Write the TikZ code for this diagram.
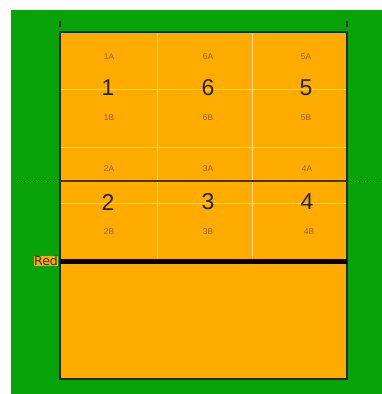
\documentclass[tikz,border=0pt]{standalone}
\usepackage{fontspec}
\setmainfont{Liberation Sans}
\newfontfamily\tagfont{DejaVu Sans}
\definecolor{grass}{RGB}{8,163,8}
\definecolor{court}{RGB}{255,171,0}
\definecolor{gridln}{RGB}{255,214,140}
\definecolor{zonetxt}{RGB}{150,95,30}
\definecolor{midln}{RGB}{80,50,10}

\begin{document}
\begin{tikzpicture}[
  x=1pt, y=-1pt,
  big/.style={inner sep=0pt,font=\fontsize{23}{23}\selectfont,text=black!85},
  small/.style={inner sep=0pt,font=\fontsize{8.3}{9}\selectfont,text=zonetxt},
  grid/.style={gridln,line width=0.8pt}]
\useasboundingbox (0,0) rectangle (382,394);
% grass and court
\fill[grass] (11,10) rectangle (382,394);
\fill[court] (60,32) rectangle (347,379);
\draw[grid] (157,32) -- (157,258) (252,32) -- (252,258);
\draw[grid] (60,89) -- (347,89) (60,147) -- (347,147) (60,203) -- (347,203);
\draw[black!85,line width=1.6pt] (60,32) rectangle (347,379);
% centre line, attack line
\draw[midln,line width=1.5pt] (60,181) -- (347,181);
\draw[midln,dotted,line width=0.9pt] (18,181) -- (60,181) (347,181) -- (382,181);
\draw[black,line width=5pt] (60,261) -- (347,261);
\draw[black!80,line width=1.2pt] (60,21) -- (60,27) (347,21) -- (347,27);
% zones
\foreach \n/\x/\y in {1/108/88,6/208/88,5/306/88,2/108/202,3/208/202,4/307/202}{
  \node[big] (z\n) at (\x,\y) {\n};
}
\foreach \n/\x/\y in {1/109/57,6/208/57,5/306/57,2/109/169,3/208/169,4/307/169}{
  \node[small] (z\n a) at (\x,\y) {\n A};
}
\foreach \n/\x/\y in {1/109/118,6/208/118,5/306/118,2/109/232,3/208/232,4/309/232}{
  \node[small] (z\n b) at (\x,\y) {\n B};
}
\node[fill=court,inner sep=0.6pt,font=\tagfont\fontsize{12.5}{13}\selectfont,text=black!80] (redtag) at (46,261) {Red};
\end{tikzpicture}
\end{document}
